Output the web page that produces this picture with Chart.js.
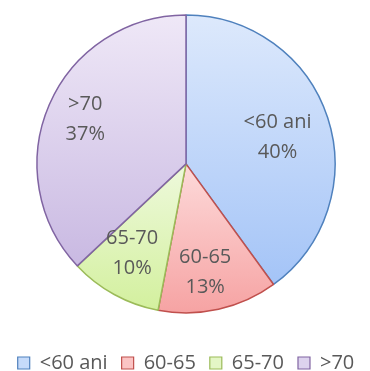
<!DOCTYPE html>
<html>
<head>
<meta charset="utf-8">
<script src="https://cdn.jsdelivr.net/npm/chart.js@4/dist/chart.umd.min.js"></script>
<style>
  html, body { margin: 0; padding: 0; background: #ffffff; }
  #wrap { width: 370px; height: 371px; position: relative; }
</style>
</head>
<body>
<div id="wrap"><canvas id="pie"></canvas></div>
<script>
// Age groups and their shares (percent)
const categories = ['<60 ani', '60-65', '65-70', '>70'];
const shares = [40, 13, 10, 37];

// Slice styling: light top, deeper bottom, darker outline
const topColors = ['#dde9fc', '#fddada', '#eef9dc', '#efe8f7'];
const bottomColors = ['#a4c4f7', '#f6a3a3', '#d3f09e', '#c9b9e2'];
const edgeColors = ['#4f81bd', '#c0504d', '#9bbb59', '#8064a2'];
const legendFill = ['#c6dbfa', '#fbc4c4', '#e4f6c6', '#ddd3ee'];

// Where each label block sits: fraction of radius and angular nudge (radians)
const labelRadius = [0.64, 0.74, 0.70, 0.74];
const labelNudge = [0.03, 0.045, 0.04, 0.01];

const PIE_RADIUS = 149;
const total = shares.reduce((a, b) => a + b, 0);

// Vertical gradient spanning the slice's own vertical extent
function sliceGradient(ctx) {
  const chart = ctx.chart;
  const area = chart.chartArea;
  if (!area) return topColors[ctx.dataIndex];
  const i = ctx.dataIndex;
  const cy = (area.top + area.bottom) / 2;
  let acc = 0;
  for (let k = 0; k < i; k++) acc += shares[k];
  const a0 = -Math.PI / 2 + (acc / total) * 2 * Math.PI;
  const a1 = a0 + (shares[i] / total) * 2 * Math.PI;
  let ys = [cy, cy + PIE_RADIUS * Math.sin(a0), cy + PIE_RADIUS * Math.sin(a1)];
  // include extremes of the arc
  [-Math.PI / 2, Math.PI / 2, 3 * Math.PI / 2].forEach(a => {
    if (a > a0 && a < a1) ys.push(cy + PIE_RADIUS * Math.sin(a));
  });
  const y0 = Math.min(...ys), y1 = Math.max(...ys);
  const g = chart.ctx.createLinearGradient(0, y0, 0, y1);
  g.addColorStop(0, topColors[i]);
  g.addColorStop(1, bottomColors[i]);
  return g;
}

// Two-line labels (name + percentage) inside each slice
const sliceLabels = {
  id: 'sliceLabels',
  afterDatasetsDraw(chart) {
    const ctx = chart.ctx;
    const meta = chart.getDatasetMeta(0);
    ctx.save();
    ctx.fillStyle = '#595959';
    ctx.font = '20px "Open Sans", sans-serif';
    ctx.textAlign = 'center';
    ctx.textBaseline = 'middle';
    meta.data.forEach((arc, i) => {
      const mid = (arc.startAngle + arc.endAngle) / 2 + labelNudge[i];
      const r = arc.outerRadius * labelRadius[i];
      const x = arc.x + Math.cos(mid) * r;
      const y = arc.y + Math.sin(mid) * r;
      const pct = Math.round(shares[i] / total * 100) + '%';
      ctx.fillText(categories[i], x, y - 15);
      ctx.fillText(pct, x, y + 15);
    });
    ctx.restore();
  }
};

new Chart(document.getElementById('pie'), {
  type: 'pie',
  data: {
    labels: categories,
    datasets: [{
      data: shares,
      backgroundColor: sliceGradient,
      borderColor: edgeColors,
      borderWidth: 1.5,
      radius: PIE_RADIUS
    }]
  },
  options: {
    responsive: true,
    maintainAspectRatio: false,
    animation: false,
    layout: { padding: { top: 0, bottom: -12, left: 2, right: 0 } },
    plugins: {
      tooltip: { enabled: false },
      legend: {
        position: 'bottom',
        // blank title used only as a spacer between pie and legend row
        title: { display: true, text: ' ', font: { size: 1 }, padding: { top: 5, bottom: 5 } },
        labels: {
          boxWidth: 12,
          boxHeight: 12,
          padding: 14,
          color: '#595959',
          font: { family: '"Open Sans", sans-serif', size: 20 },
          generateLabels(chart) {
            return categories.map((name, i) => ({
              text: name,
              fillStyle: legendFill[i],
              strokeStyle: edgeColors[i],
              lineWidth: 1.2,
              fontColor: '#595959',
              hidden: false,
              index: i
            }));
          }
        }
      }
    }
  },
  plugins: [sliceLabels]
});
</script>
</body>
</html>
